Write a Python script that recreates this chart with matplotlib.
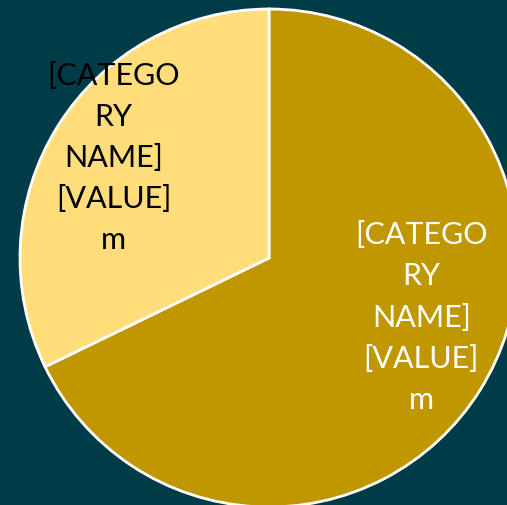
import numpy as np
import matplotlib.pyplot as plt

# slice values (share of the pie), gold slice first going clockwise from 12 o'clock
labels = ['[CATEGORY NAME]', '[CATEGORY NAME]']
values = [67.8, 32.2]
label_texts = ['[CATEGO\nRY\nNAME]\n[VALUE]\nm', '[CATEGO\nRY\nNAME]\n[VALUE]\nm']

colors = ['#C09700', '#FFDD7B']
text_colors = ['white', 'black']
bg = '#003B48'

fig = plt.figure(figsize=(5.07, 5.06), dpi=100, facecolor=bg)
ax = fig.add_axes([20 / 507, -2 / 506, 498 / 507, 498 / 506])
ax.set_facecolor(bg)

wedges, _ = ax.pie(values, colors=colors, startangle=90, counterclock=False,
                   radius=1, wedgeprops=dict(edgecolor='white', linewidth=2))

# label placement (angle offset from wedge middle, distance from centre)
label_pos = [(11, 0.655), (-1, 0.745)]
for w, txt, tc, (off, dist) in zip(wedges, label_texts, text_colors, label_pos):
    ang = np.deg2rad((w.theta1 + w.theta2) / 2 + off)
    ax.text(dist * np.cos(ang), dist * np.sin(ang), txt, ha='center', va='center',
            color=tc, fontsize=22, family='Lato', linespacing=1.57)

ax.set_xlim(-1, 1)
ax.set_ylim(-1, 1)
ax.set_aspect('equal')
ax.axis('off')

fig.savefig('out.png', dpi=100, facecolor=bg)
